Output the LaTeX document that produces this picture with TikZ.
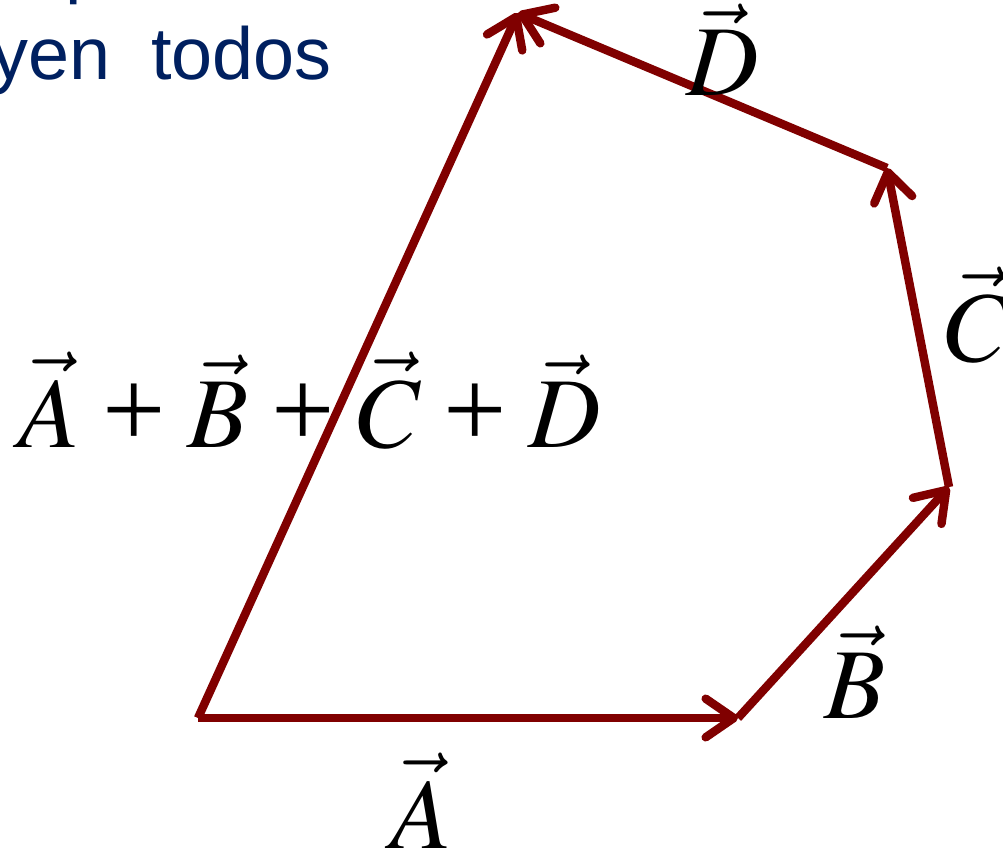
\documentclass[tikz,border=0pt]{standalone}
\usepackage{mathptmx}
\usepackage{fontspec}
\newfontfamily\slidefont{Liberation Sans}
\newfontfamily\timesfont{Liberation Serif}
\usetikzlibrary{arrows.meta}
\definecolor{vecred}{RGB}{128,0,0}
\definecolor{slideblue}{RGB}{0,32,96}
\newcommand{\vplus}{\mathbin{\mkern1.5mu\mbox{\timesfont\fontsize{64}{70}\selectfont +}\mkern1.5mu}}
\begin{document}
\begin{tikzpicture}[
  x=0.2mm, y=-0.2mm,
  vec/.style={draw=vecred, line width=4.8pt, -{Straight Barb[length=16pt,width=22pt,round]}},
  lab/.style={font=\fontsize{57}{62}\selectfont, inner sep=0pt, anchor=base},
  slide/.style={font=\slidefont\fontsize{42}{50}\selectfont, text=slideblue, inner sep=0pt, anchor=base west}
]
\useasboundingbox (0,0) rectangle (1003,856);
% ---- slide text -------------------------------------------------------------
\node[slide] (prev) at (65,-10) {p};
\node[slide] (line) at (-9,80) {yen\ \ todos};
% ---- polygon corners ----------------------------------------------------------
\coordinate (O) at (198,718);
\coordinate (PA) at (738,718);
\coordinate (PB) at (949,487);
\coordinate (PC) at (887,168);
\coordinate (PD) at (518,13);
% ---- vectors ------------------------------------------------------------------
\draw[vec] (O) -- (PA);
\draw[vec] (PA) -- (PB);
\draw[vec] (PB) -- (PC);
\draw[vec] (PC) -- (PD);
\draw[vec] (O) -- (PD);
% ---- labels -------------------------------------------------------------------
\node[lab] (labA) at (421,848) {$\vec{A}$};
\node[lab] (labB) at (855,718) {$\vec{B}$};
\node[lab] (labC) at (977,362) {$\vec{C}$};
\node[lab] (labD) at (723,96) {$\vec{D}$};
\node[lab] (sum) at (310,447) {$\vec{A}\vplus\vec{B}\vplus\vec{C}\vplus\vec{D}$};
\end{tikzpicture}
\end{document}
